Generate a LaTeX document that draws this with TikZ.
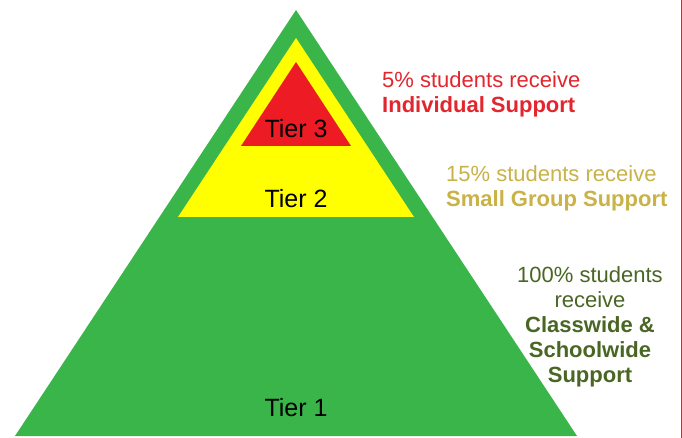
\documentclass[tikz,border=0pt]{standalone}
\usepackage{fontspec}
\setmainfont{Liberation Sans}
\usepackage{tikz}
\usetikzlibrary{positioning}
\definecolor{tiergreen}{RGB}{58,181,74}
\definecolor{tieryellow}{RGB}{255,255,0}
\definecolor{tierred}{RGB}{237,28,36}
\definecolor{notered}{RGB}{227,38,46}
\definecolor{notegold}{RGB}{201,178,72}
\definecolor{notegreen}{RGB}{74,102,36}
\tikzset{tier/.style={font=\fontsize{25}{29}\selectfont, anchor=base, inner sep=0pt}}
\tikzset{note/.style={font=\fontsize{22}{25}\selectfont, inner sep=0pt, anchor=base west, align=left}}

\begin{document}
\begin{tikzpicture}[x=1pt,y=-1pt]
\useasboundingbox (0,0) rectangle (682,438);
\fill[white] (0,0) rectangle (682,438);
\draw[tierred, line width=1pt] (681,0) -- (681,438);
% the three tiers
\fill[tiergreen] (15,436) -- (296,10) -- (577,436) -- cycle;
\fill[tieryellow] (178,217) -- (296,38) -- (414,217) -- cycle;
\fill[tierred] (241,146) -- (296,62) -- (351,146) -- cycle;
\node[tier] (tier3) at (296,138) {Tier 3};
\node[tier] (tier2) at (296,208) {Tier 2};
\node[tier] (tier1) at (296,416) {Tier 1};
% notes on the right (base = last line)
\node[note, text=notered] (note3) at (382,113) {5\% students receive\\{\bfseries Individual Support}};
\node[note, text=notegold] (note2) at (446,207) {15\% students receive\\{\bfseries Small Group Support}};
\node[note, text=notegreen, anchor=base, align=center] (note1) at (590,382) {100\% students\\receive\\{\bfseries Classwide \&}\\{\bfseries Schoolwide}\\{\bfseries Support}};
\end{tikzpicture}
\end{document}
